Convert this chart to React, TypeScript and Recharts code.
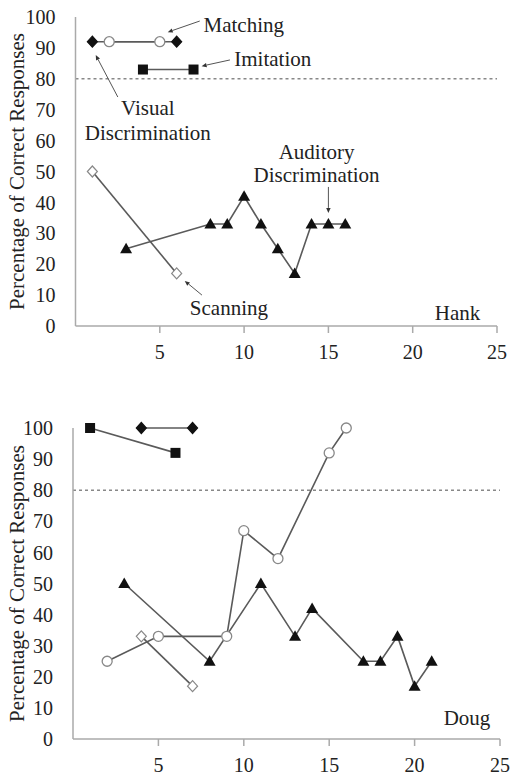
import React from 'react';
import { LineChart, Line, XAxis, YAxis, ReferenceLine, ReferenceDot, Label } from 'recharts';

const FONT = 'Liberation Serif, Times New Roman, serif';
const TEXT = '#222';
const AXIS = '#aaa';
const LINE = '#5a5a5a';

const xTicks = [5, 10, 15, 20, 25];
const yTicks = [0, 10, 20, 30, 40, 50, 60, 70, 80, 90, 100];
const criterion = 80;
const yLabel = 'Percentage of Correct Responses';

// Hank
const hankVisual = [{ session: 1, pct: 92 }, { session: 6, pct: 92 }];
const hankMatching = [{ session: 2, pct: 92 }, { session: 5, pct: 92 }];
const hankImitation = [{ session: 4, pct: 83 }, { session: 7, pct: 83 }];
const hankScanning = [{ session: 1, pct: 50 }, { session: 6, pct: 17 }];
const hankAuditory = [
  { session: 3, pct: 25 }, { session: 8, pct: 33 }, { session: 9, pct: 33 },
  { session: 10, pct: 42 }, { session: 11, pct: 33 }, { session: 12, pct: 25 },
  { session: 13, pct: 17 }, { session: 14, pct: 33 }, { session: 15, pct: 33 },
  { session: 16, pct: 33 },
];

// Doug
const dougImitation = [{ session: 1, pct: 100 }, { session: 6, pct: 92 }];
const dougVisual = [{ session: 4, pct: 100 }, { session: 7, pct: 100 }];
const dougMatching = [
  { session: 2, pct: 25 }, { session: 5, pct: 33 }, { session: 9, pct: 33 },
  { session: 10, pct: 67 }, { session: 12, pct: 58 }, { session: 15, pct: 92 },
  { session: 16, pct: 100 },
];
const dougScanning = [{ session: 4, pct: 33 }, { session: 7, pct: 17 }];
const dougAuditory = [
  { session: 3, pct: 50 }, { session: 8, pct: 25 }, { session: 11, pct: 50 },
  { session: 13, pct: 33 }, { session: 14, pct: 42 }, { session: 17, pct: 25 },
  { session: 18, pct: 25 }, { session: 19, pct: 33 }, { session: 20, pct: 17 },
  { session: 21, pct: 25 },
];

// Annotations (data coordinates)
const hankTexts = [
  { x: 9.98, y: 97.4, text: 'Matching' },
  { x: 11.7, y: 86.7, text: 'Imitation' },
  { x: 4.29, y: 70.6, text: 'Visual' },
  { x: 4.29, y: 62.5, text: 'Discrimination' },
  { x: 14.3, y: 56.3, text: 'Auditory' },
  { x: 14.3, y: 48.9, text: 'Discrimination' },
  { x: 9.1, y: 6.1, text: 'Scanning' },
  { x: 22.66, y: 4.5, text: 'Hank' },
];
const hankArrows = [
  { from: { x: 7.37, y: 98.7 }, to: { x: 5.47, y: 95.1 } },
  { from: { x: 9.16, y: 86.1 }, to: { x: 7.48, y: 84.1 } },
  { from: { x: 2.51, y: 74.1 }, to: { x: 1.2, y: 87.7 } },
  { from: { x: 15.0, y: 45.0 }, to: { x: 15.0, y: 36.6 } },
  { from: { x: 7.5, y: 10.0 }, to: { x: 6.48, y: 14.6 } },
];
const dougTexts = [{ x: 23.07, y: 6.75, text: 'Doug' }];

const mkDiamond = (filled: boolean) => (p: any) => {
  const { cx, cy, index } = p;
  if (cx == null || cy == null) return <g key={`d${index}`} />;
  return (
    <path
      key={`d${index}`}
      d={`M${cx},${cy - 5.5}L${cx + 5},${cy}L${cx},${cy + 5.5}L${cx - 5},${cy}Z`}
      fill={filled ? '#111' : '#fff'}
      stroke={filled ? '#111' : '#888'}
      strokeWidth={1.2}
    />
  );
};
const circleDot = (p: any) => {
  const { cx, cy, index } = p;
  if (cx == null || cy == null) return <g key={`c${index}`} />;
  return <circle key={`c${index}`} cx={cx} cy={cy} r={5} fill="#fff" stroke="#888" strokeWidth={1.3} />;
};
const squareDot = (p: any) => {
  const { cx, cy, index } = p;
  if (cx == null || cy == null) return <g key={`s${index}`} />;
  return <rect key={`s${index}`} x={cx - 5} y={cy - 5} width={10} height={10} fill="#111" />;
};
const triangleDot = (p: any) => {
  const { cx, cy, index } = p;
  if (cx == null || cy == null) return <g key={`t${index}`} />;
  return (
    <path key={`t${index}`} d={`M${cx},${cy - 6}L${cx + 6},${cy + 4.5}L${cx - 6},${cy + 4.5}Z`} fill="#111" />
  );
};

const ArrowShape = (p: any) => {
  const { x1, y1, x2, y2 } = p;
  if ([x1, y1, x2, y2].some((v) => v == null || isNaN(v))) return <g />;
  const ang = Math.atan2(y2 - y1, x2 - x1);
  const L = 5;
  const W = 2.2;
  const bx = x2 - L * Math.cos(ang);
  const by = y2 - L * Math.sin(ang);
  const nx = -Math.sin(ang) * W;
  const ny = Math.cos(ang) * W;
  return (
    <g>
      <line x1={x1} y1={y1} x2={bx} y2={by} stroke="#555" strokeWidth={1} />
      <path d={`M${x2},${y2}L${bx + nx},${by + ny}L${bx - nx},${by - ny}Z`} fill="#333" />
    </g>
  );
};

const YLabel = (props: any) => {
  const vb = props.viewBox || {};
  const x = (vb.x || 0) + 17;
  const y = (vb.y || 0) + (vb.height || 0) / 2;
  return (
    <text
      x={x}
      y={y}
      transform={`rotate(-90, ${x}, ${y})`}
      textAnchor="middle"
      dominantBaseline="central"
      fill={TEXT}
      fontSize={21}
      fontFamily={FONT}
      style={{ fontFamily: FONT }}
    >
      {yLabel}
    </text>
  );
};

type Series = { data: { session: number; pct: number }[]; dot: any; name: string };

function Panel(props: {
  width: number;
  height: number;
  margin: any;
  yWidth: number;
  series: Series[];
  texts: { x: number; y: number; text: string }[];
  arrows: { from: { x: number; y: number }; to: { x: number; y: number } }[];
}) {
  const { width, height, margin, yWidth, series, texts, arrows } = props;
  return (
    <LineChart width={width} height={height} margin={margin} style={{ fontFamily: FONT }}>
      <XAxis
        type="number"
        dataKey="session"
        domain={[0, 25]}
        ticks={xTicks}
        height={30}
        axisLine={{ stroke: AXIS, strokeWidth: 1.5 }}
        tickLine={{ stroke: AXIS, strokeWidth: 1.5 }}
        tickSize={7}
        tickMargin={12}
        tick={{ fill: TEXT, fontSize: 20, fontFamily: FONT }}
      />
      <YAxis
        type="number"
        dataKey="pct"
        domain={[0, 100]}
        ticks={yTicks}
        interval={0}
        width={yWidth}
        axisLine={{ stroke: AXIS, strokeWidth: 1.5 }}
        tickLine={false}
        tickSize={0}
        tickMargin={20}
        tick={{ fill: TEXT, fontSize: 20, fontFamily: FONT }}
      >
        <Label content={YLabel} />
      </YAxis>
      <ReferenceLine y={criterion} stroke="#888" strokeWidth={1.5} strokeDasharray="3 3" />
      {series.map((s) => (
        <Line
          key={s.name}
          data={s.data}
          dataKey="pct"
          name={s.name}
          stroke={LINE}
          strokeWidth={1.6}
          dot={s.dot}
          activeDot={false}
          isAnimationActive={false}
        />
      ))}
      {arrows.map((a, i) => (
        <ReferenceLine key={`a${i}`} segment={[a.from, a.to]} shape={ArrowShape} />
      ))}
      {texts.map((t, i) => (
        <ReferenceDot
          key={`t${i}`}
          x={t.x}
          y={t.y}
          r={0}
          fill="none"
          stroke="none"
          label={{ value: t.text, position: 'center', fill: TEXT, fontSize: 21, fontFamily: FONT }}
        />
      ))}
    </LineChart>
  );
}

export default function App() {
  const hankSeries: Series[] = [
    { name: 'Visual Discrimination', data: hankVisual, dot: mkDiamond(true) },
    { name: 'Matching', data: hankMatching, dot: circleDot },
    { name: 'Imitation', data: hankImitation, dot: squareDot },
    { name: 'Scanning', data: hankScanning, dot: mkDiamond(false) },
    { name: 'Auditory Discrimination', data: hankAuditory, dot: triangleDot },
  ];
  const dougSeries: Series[] = [
    { name: 'Imitation', data: dougImitation, dot: squareDot },
    { name: 'Visual Discrimination', data: dougVisual, dot: mkDiamond(true) },
    { name: 'Matching', data: dougMatching, dot: circleDot },
    { name: 'Scanning', data: dougScanning, dot: mkDiamond(false) },
    { name: 'Auditory Discrimination', data: dougAuditory, dot: triangleDot },
  ];
  return (
    <div
      style={{
        position: 'absolute',
        left: 0,
        top: 0,
        width: 511,
        height: 777,
        background: '#fff',
        overflow: 'hidden',
        fontFamily: FONT,
      }}
    >
      <div style={{ position: 'absolute', left: 0, top: 0 }}>
        <Panel
          width={511}
          height={380}
          margin={{ top: 17, right: 14, bottom: 24, left: 0 }}
          yWidth={75.5}
          series={hankSeries}
          texts={hankTexts}
          arrows={hankArrows}
        />
      </div>
      <div style={{ position: 'absolute', left: 0, top: 380 }}>
        <Panel
          width={511}
          height={397}
          margin={{ top: 48, right: 11, bottom: 8, left: 0 }}
          yWidth={73}
          series={dougSeries}
          texts={dougTexts}
          arrows={[]}
        />
      </div>
    </div>
  );
}
